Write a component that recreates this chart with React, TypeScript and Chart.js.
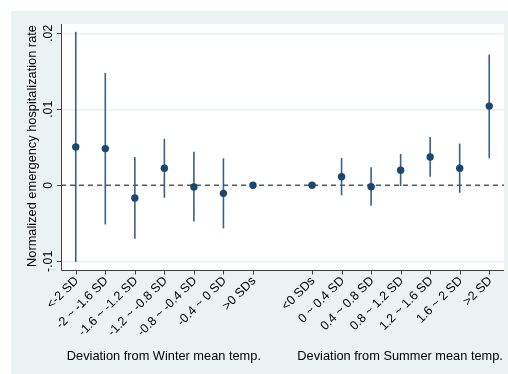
import React, { useEffect, useRef } from "react";
import { Chart, registerables } from "chart.js";

Chart.register(...registerables);

const categories = [
  "<-2 SD", "-2 ~ -1.6 SD", "-1.6 ~ -1.2 SD", "-1.2 ~ -0.8 SD", "-0.8 ~ -0.4 SD", "-0.4 ~ 0 SD", ">0 SDs",
  "<0 SDs", "0 ~ 0.4 SD", "0.4 ~ 0.8 SD", "0.8 ~ 1.2 SD", "1.2 ~ 1.6 SD", "1.6 ~ 2 SD", ">2 SD",
];
const positions = [1, 2, 3, 4, 5, 6, 7, 9, 10, 11, 12, 13, 14, 15];
const estimates = [0.00505, 0.00483, -0.00168, 0.00224, -0.00022, -0.00106, 0, 0, 0.00114, -0.0002, 0.00198, 0.00373, 0.00224, 0.01042];
const ciLower = [-0.0101, -0.00515, -0.00704, -0.00163, -0.00475, -0.00567, null, null, -0.00132, -0.00269, -0.0001, 0.00114, -0.00098, 0.00356];
const ciUpper = [0.0202, 0.0148, 0.00373, 0.0061, 0.0044, 0.00356, null, null, 0.0036, 0.00237, 0.00413, 0.00637, 0.00549, 0.01719];
const yTicks = [-0.01, 0, 0.01, 0.02];
const yTickLabels = ["-.01", "0", ".01", ".02"];
const yTitle = "Normalized emergency hospitalization rate";
const groupTitles = ["Deviation from Winter mean temp.", "Deviation from Summer mean temp."];
const groupCenters = [4, 12];

const FONT = "Liberation Sans, Arial, sans-serif";
const NAVY = "#1a476f";
const BG = "#eaf2f3";

export default function App() {
  const ref = useRef<HTMLCanvasElement>(null);
  useEffect(() => {
    const canvas = ref.current!;
    const decor = {
      id: "decor",
      beforeDraw(chart: any) {
        const { ctx, chartArea: a } = chart;
        ctx.save();
        ctx.fillStyle = "#ffffff";
        ctx.fillRect(0, 0, chart.width, chart.height);
        ctx.fillStyle = BG;
        ctx.fillRect(11, 11, chart.width - 11, chart.height - 11);
        ctx.fillStyle = "#ffffff";
        ctx.fillRect(a.left, a.top, a.right - a.left, a.bottom - a.top);
        ctx.restore();
      },
      beforeDatasetsDraw(chart: any) {
        const { ctx, chartArea: a } = chart;
        const xs = chart.scales.x;
        const ys = chart.scales.y;
        ctx.save();
        // zero line
        const y0 = ys.getPixelForValue(0);
        ctx.strokeStyle = "#5a5a5a";
        ctx.lineWidth = 1.6;
        ctx.setLineDash([5, 4]);
        ctx.beginPath();
        ctx.moveTo(a.left, y0);
        ctx.lineTo(a.right, y0);
        ctx.stroke();
        ctx.setLineDash([]);
        // CI spikes
        ctx.strokeStyle = "#3d5f85";
        ctx.lineWidth = 1.6;
        positions.forEach((p, i) => {
          const lo = ciLower[i];
          const hi = ciUpper[i];
          if (lo === null || hi === null) return;
          const x = xs.getPixelForValue(p);
          ctx.beginPath();
          ctx.moveTo(x, ys.getPixelForValue(lo));
          ctx.lineTo(x, ys.getPixelForValue(hi));
          ctx.stroke();
        });
        ctx.restore();
      },
      afterDraw(chart: any) {
        const { ctx, chartArea: a } = chart;
        const xs = chart.scales.x;
        const ys = chart.scales.y;
        ctx.save();
        ctx.strokeStyle = "#404040";
        ctx.lineWidth = 1;
        // axes
        ctx.beginPath();
        ctx.moveTo(a.left + 0.5, a.top);
        ctx.lineTo(a.left + 0.5, a.bottom + 0.5);
        ctx.lineTo(a.right, a.bottom + 0.5);
        ctx.stroke();
        // y ticks
        ctx.fillStyle = "#000";
        ctx.font = `12.3px ${FONT}`;
        yTicks.forEach((v, i) => {
          const y = Math.round(ys.getPixelForValue(v)) + 0.5;
          ctx.beginPath();
          ctx.moveTo(a.left - 4, y);
          ctx.lineTo(a.left, y);
          ctx.stroke();
          ctx.save();
          ctx.translate(52, ys.getPixelForValue(v));
          ctx.rotate(-Math.PI / 2);
          ctx.textAlign = "center";
          ctx.textBaseline = "alphabetic";
          ctx.fillText(yTickLabels[i], 0, 0);
          ctx.restore();
        });
        // x ticks
        ctx.font = `12.5px ${FONT}`;
        positions.forEach((p, i) => {
          const x = Math.round(xs.getPixelForValue(p)) + 0.5;
          ctx.beginPath();
          ctx.moveTo(x, a.bottom);
          ctx.lineTo(x, a.bottom + 4.5);
          ctx.stroke();
          ctx.save();
          ctx.translate(xs.getPixelForValue(p) + 1, a.bottom + 9);
          ctx.rotate(-Math.PI / 4);
          ctx.textAlign = "right";
          ctx.textBaseline = "middle";
          ctx.fillText(categories[i], 0, 0);
          ctx.restore();
        });
        // titles
        ctx.font = `12.8px ${FONT}`;
        ctx.textAlign = "center";
        ctx.textBaseline = "middle";
        groupTitles.forEach((t, i) => {
          ctx.fillText(t, xs.getPixelForValue(groupCenters[i]) - 0.5, 356);
        });
        ctx.save();
        ctx.translate(32, (a.top + a.bottom) / 2 - 1);
        ctx.rotate(-Math.PI / 2);
        ctx.fillText(yTitle, 0, 0);
        ctx.restore();
        ctx.restore();
      },
    };

    const chart = new Chart(canvas, {
      type: "scatter",
      data: {
        datasets: [
          {
            data: positions.map((p, i) => ({ x: p, y: estimates[i] })),
            backgroundColor: NAVY,
            borderColor: NAVY,
            borderWidth: 0,
            pointRadius: 3.7,
          },
        ],
      },
      options: {
        responsive: false,
        animation: false,
        devicePixelRatio: 1,
        layout: { padding: { left: 0, right: 2.5, top: 24, bottom: 0 } },
        plugins: { legend: { display: false }, tooltip: { enabled: false } },
        scales: {
          x: {
            type: "linear",
            min: 0.5,
            max: 15.5,
            ticks: { display: false },
            grid: { display: false },
            border: { display: false },
            afterFit(scale: any) {
              scale.height = 104;
            },
          },
          y: {
            type: "linear",
            min: -0.011145,
            max: 0.021224,
            ticks: { display: false },
            grid: { color: BG, lineWidth: 1.5, drawTicks: false },
            border: { display: false },
            afterBuildTicks(scale: any) {
              scale.ticks = yTicks.map((v) => ({ value: v }));
            },
            afterFit(scale: any) {
              scale.width = 61;
            },
          },
        },
      },
      plugins: [decor],
    } as any);
    return () => chart.destroy();
  }, []);

  return (
    <canvas
      ref={ref}
      width={508}
      height={374}
      style={{ position: "absolute", left: 0, top: 0, width: 508, height: 374, display: "block" }}
    />
  );
}
